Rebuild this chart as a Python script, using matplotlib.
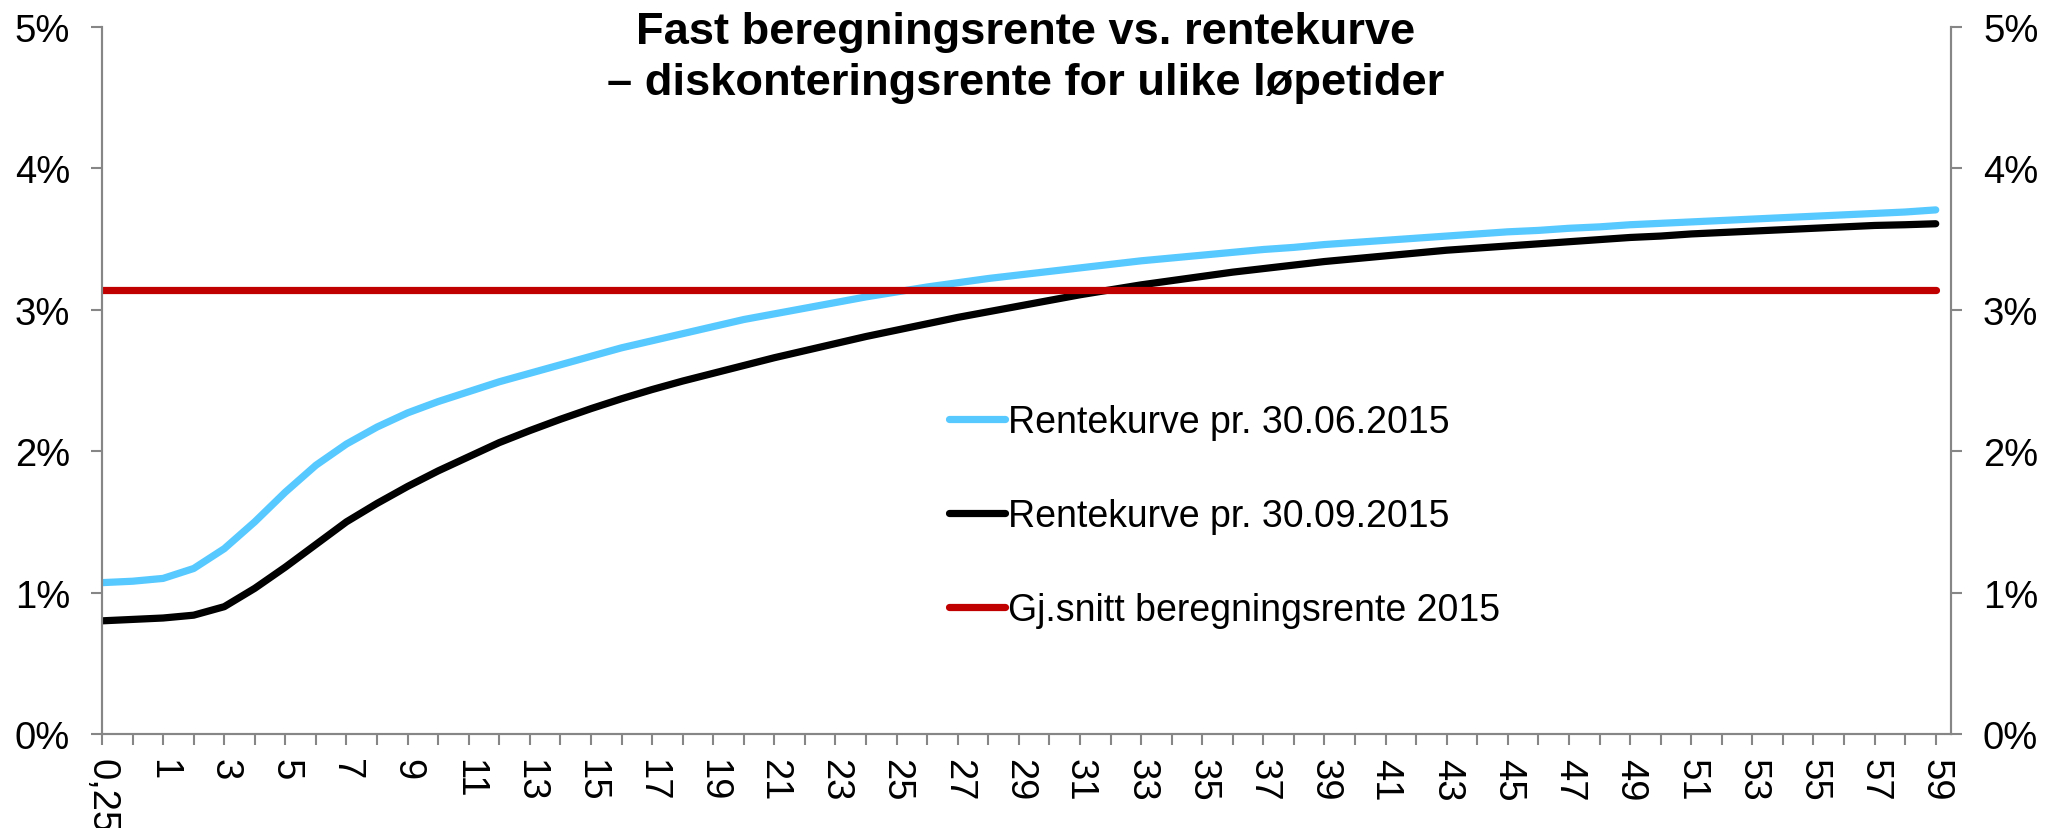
import matplotlib
matplotlib.use("Agg")
import matplotlib.pyplot as plt
from matplotlib.ticker import FuncFormatter

plt.rcParams['font.family'] = ['Liberation Sans', 'DejaVu Sans']

# løpetider (år)
maturities = ['0,25', '0,5'] + [str(y) for y in range(1, 60)]

# rentekurve pr. 30.06.2015 (%)
curve_jun = [1.07, 1.08, 1.10, 1.17, 1.31, 1.50, 1.71, 1.90, 2.05, 2.17,
             2.27, 2.35, 2.42, 2.49, 2.55, 2.61, 2.67, 2.73, 2.78, 2.83,
             2.88, 2.93, 2.97, 3.01, 3.05, 3.09, 3.125, 3.16, 3.19, 3.22,
             3.245, 3.27, 3.295, 3.32, 3.345, 3.365, 3.385, 3.405, 3.425, 3.44,
             3.46, 3.475, 3.49, 3.505, 3.52, 3.535, 3.55, 3.56, 3.575, 3.585,
             3.60, 3.61, 3.62, 3.63, 3.64, 3.65, 3.66, 3.67, 3.68, 3.69, 3.705]

# rentekurve pr. 30.09.2015 (%)
curve_sep = [0.80, 0.81, 0.82, 0.84, 0.90, 1.03, 1.18, 1.34, 1.50, 1.63,
             1.75, 1.86, 1.96, 2.06, 2.145, 2.225, 2.30, 2.37, 2.435, 2.495,
             2.55, 2.605, 2.66, 2.71, 2.76, 2.81, 2.855, 2.90, 2.945, 2.985,
             3.025, 3.065, 3.105, 3.14, 3.175, 3.205, 3.235, 3.265, 3.29, 3.315,
             3.34, 3.36, 3.38, 3.40, 3.42, 3.435, 3.45, 3.465, 3.48, 3.495,
             3.51, 3.52, 3.535, 3.545, 3.555, 3.565, 3.575, 3.585, 3.595, 3.60, 3.607]

# gj.snitt beregningsrente 2015 (%)
avg_rate = 3.142

labels = ['Rentekurve pr. 30.06.2015', 'Rentekurve pr. 30.09.2015',
          'Gj.snitt beregningsrente 2015']
colors = ['#57C9FF', '#000000', '#C00000']

W, H = 2058, 829
fig = plt.figure(figsize=(W / 100, H / 100), dpi=100)
ax = fig.add_axes([102 / W, 1 - 735 / H, (1951 - 102) / W, (735 - 27.7) / H])

x = list(range(len(maturities)))
lw = 5.2
ax.plot(x, curve_jun, color=colors[0], lw=lw, solid_capstyle='round', label=labels[0])
ax.plot(x, curve_sep, color=colors[1], lw=lw, solid_capstyle='round', label=labels[1])
ax.plot(x, [avg_rate] * len(x), color=colors[2], lw=lw, solid_capstyle='round', label=labels[2])

ax.set_xlim(0, 60.5)
ax.set_ylim(0, 5)
gray = '#868686'
fs = 27.5

ax.set_xticks(x)
ax.set_xticklabels([m if i % 2 == 0 else '' for i, m in enumerate(maturities)],
                   rotation=-90, fontsize=fs)
ax.set_yticks(range(6))
pct = FuncFormatter(lambda v, p: f'{v:.0f}%')
ax.yaxis.set_major_formatter(pct)
ax.tick_params(axis='x', length=8, width=1.5, color=gray, pad=9)
ax.tick_params(axis='y', length=8, width=1.5, color=gray, pad=15, labelsize=fs)
for s in ['left', 'bottom', 'right']:
    ax.spines[s].set_color(gray)
    ax.spines[s].set_linewidth(1.5)
ax.spines['top'].set_visible(False)

ax2 = ax.twinx()
ax2.set_ylim(0, 5)
ax2.set_yticks(range(6))
ax2.yaxis.set_major_formatter(pct)
ax2.tick_params(axis='y', length=8, width=1.5, color=gray, pad=15, labelsize=fs)
for s in ['left', 'bottom', 'right']:
    ax2.spines[s].set_color(gray)
    ax2.spines[s].set_linewidth(1.5)
ax2.spines['top'].set_visible(False)

fig.text(1026 / W, 1 - 12 / H,
         'Fast beregningsrente vs. rentekurve\n– diskonteringsrente for ulike løpetider',
         ha='center', va='top', fontsize=32.6, fontweight='bold', linespacing=1.3)

ax.legend(loc='center left', bbox_to_anchor=(949 / W, 1 - 517 / H),
          bbox_transform=fig.transFigure, frameon=False, fontsize=27,
          handlelength=1.48, handletextpad=0.1, labelspacing=1.55,
          borderpad=0, borderaxespad=0)

fig.savefig('out.png', dpi=100)
